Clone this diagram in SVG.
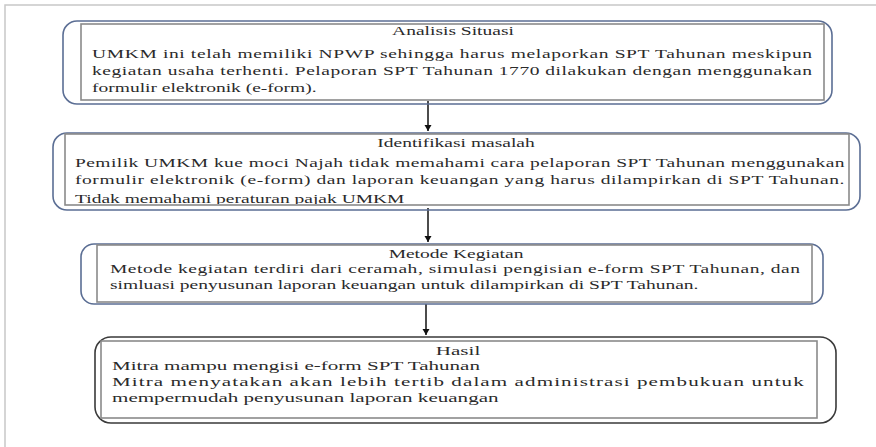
<svg xmlns="http://www.w3.org/2000/svg" width="876" height="447" viewBox="0 0 876 447">
<style>
.outer{fill:none;stroke:#5b6e94;stroke-width:1.6}
.outer4{fill:none;stroke:#3a3a3a;stroke-width:1.6}
.inner{fill:#fff;stroke:#8a8a8a;stroke-width:1.6}
.t{font-family:"Liberation Serif","Times New Roman",serif;font-size:13px;fill:#2a2a2a}
.c{text-anchor:middle}
.conn{stroke:#111;stroke-width:1.5;fill:none}
</style>
<defs>
<marker id="ah" markerWidth="8" markerHeight="8" refX="6" refY="4" orient="auto" markerUnits="userSpaceOnUse">
<path d="M0,0.5 L6,4 L0,7.5 Z" fill="#111"/>
</marker>
<clipPath id="clip2"><rect x="65" y="134" width="784" height="70"/></clipPath>
</defs>
<rect width="876" height="447" fill="#fff"/>
<path d="M5,447 V5 H876" fill="none" stroke="#c8c8c8" stroke-width="1.5"/>
<g id="connectors">
<line class="conn" x1="428" y1="101" x2="428" y2="131" marker-end="url(#ah)"/>
<line class="conn" x1="428" y1="208" x2="428" y2="242" marker-end="url(#ah)"/>
<line class="conn" x1="426" y1="304" x2="426" y2="335" marker-end="url(#ah)"/>
</g>
<g id="analisis">
<rect class="outer" x="63" y="21" width="769" height="83" rx="14"/>
<rect class="inner" x="81" y="24" width="743" height="76"/>
<text class="t c" transform="translate(453,35) scale(1.5,1)">Analisis Situasi</text>
<text class="t" transform="translate(92,58) scale(1.5,1)" textLength="480" lengthAdjust="spacing">UMKM ini telah memiliki NPWP sehingga harus melaporkan SPT Tahunan meskipun</text>
<text class="t" transform="translate(92,75) scale(1.5,1)" textLength="480" lengthAdjust="spacing">kegiatan usaha terhenti. Pelaporan SPT Tahunan 1770 dilakukan dengan menggunakan</text>
<text class="t" transform="translate(92,92) scale(1.5,1)">formulir elektronik (e-form).</text>
</g>
<g id="identifikasi">
<rect class="outer" x="53" y="133" width="807" height="77" rx="14"/>
<rect class="inner" x="65" y="134" width="784" height="71"/>
<text class="t c" transform="translate(456,147) scale(1.5,1)">Identifikasi masalah</text>
<text class="t" transform="translate(75,167) scale(1.5,1)" textLength="513" lengthAdjust="spacing">Pemilik UMKM kue moci Najah tidak memahami cara pelaporan SPT Tahunan menggunakan</text>
<text class="t" transform="translate(75,184) scale(1.5,1)" textLength="513" lengthAdjust="spacing">formulir elektronik (e-form) dan laporan keuangan yang harus dilampirkan di SPT Tahunan.</text>
<g clip-path="url(#clip2)"><text class="t" transform="translate(75,202.5) scale(1.5,1)">Tidak memahami peraturan pajak UMKM</text></g>
</g>
<g id="metode">
<rect class="outer" x="81" y="244" width="742" height="60" rx="13"/>
<rect class="inner" x="97" y="245" width="715" height="57"/>
<text class="t c" transform="translate(456,258) scale(1.5,1)">Metode Kegiatan</text>
<text class="t" transform="translate(110,273) scale(1.5,1)" textLength="460" lengthAdjust="spacing">Metode kegiatan terdiri dari ceramah, simulasi pengisian e-form SPT Tahunan, dan</text>
<text class="t" transform="translate(110,289) scale(1.5,1)">simluasi penyusunan laporan keuangan untuk dilampirkan di SPT Tahunan.</text>
</g>
<g id="hasil">
<rect class="outer4" x="95" y="337" width="741" height="86" rx="16"/>
<rect class="inner" x="101" y="341" width="716" height="77"/>
<text class="t c" transform="translate(458,355) scale(1.62,1)">Hasil</text>
<text class="t" transform="translate(112,370) scale(1.62,1)">Mitra mampu mengisi e-form SPT Tahunan</text>
<text class="t" transform="translate(112,386) scale(1.62,1)" textLength="427" lengthAdjust="spacing">Mitra menyatakan akan lebih tertib dalam administrasi pembukuan untuk</text>
<text class="t" transform="translate(112,402) scale(1.62,1)">mempermudah penyusunan laporan keuangan</text>
</g>
</svg>
